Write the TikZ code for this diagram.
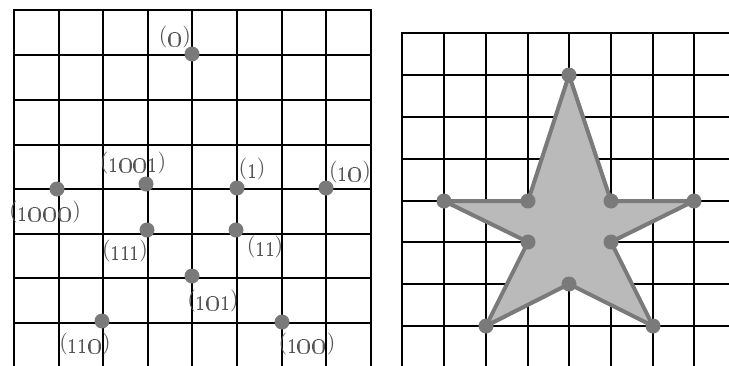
\documentclass[tikz,border=0pt]{standalone}
\usepackage{graphicx}
\definecolor{dotgray}{gray}{0.48}
\definecolor{txtgray}{gray}{0.33}
\definecolor{fillgray}{gray}{0.73}
\tikzset{
 gridline/.style={line width=2pt, black, line cap=rect},
 dotnode/.style={circle, fill=dotgray, inner sep=0pt, minimum size=15pt},
 lbl/.style={text=txtgray, inner sep=0pt, font=\normalsize},
 starline/.style={draw=dotgray, fill=fillgray, line width=4pt, line join=round},
}
\newcommand{\pL}{\raisebox{4pt}{\scalebox{2.2}[2.2]{(}}}
\newcommand{\pR}{\raisebox{4pt}{\scalebox{2.2}[2.2]{)}}}
\newcommand{\dI}{\scalebox{0.64}[1]{\oldstylenums{1}}}
\newcommand{\dO}{\oldstylenums{0}}
\newcommand{\lab}[1]{\pL\scalebox{3.0}[3.2]{#1}\pR}
\begin{document}
\begin{tikzpicture}[x=1pt,y=-1pt]
\useasboundingbox (0,0) rectangle (729,365);
\begin{scope}
\clip (0,0) rectangle (729,365);
% left grid
\foreach \x in {14,59,103,148,192,237,282,326,371} \draw[gridline] (\x,10) -- (\x,380);
\foreach \y in {10,55,100,145,189,234,278,323} \draw[gridline] (14,\y) -- (371,\y);
% right grid
\foreach \x in {402,444,486,528,569,611,653,694,736} \draw[gridline] (\x,33) -- (\x,380);
\foreach \y in {33,75,117,159,201,242,284,326} \draw[gridline] (402,\y) -- (745,\y);
\end{scope}
% left points
\node[dotnode] (d0) at (192,54) {};
\node[dotnode] (d1000) at (57,189) {};
\node[dotnode] (d1001) at (146,184) {};
\node[dotnode] (d1) at (237,188) {};
\node[dotnode] (d10) at (326,188) {};
\node[dotnode] (d111) at (147,230) {};
\node[dotnode] (d11) at (236,230) {};
\node[dotnode] (d101) at (192,276) {};
\node[dotnode] (d110) at (102,321) {};
\node[dotnode] (d100) at (282,322) {};
% left labels
\node[lbl] (l0) at (175,37) {\lab{\dO}};
\node[lbl] (l1001) at (133,163) {\lab{\dI\dO\dO\dI}};
\node[lbl] (l1) at (252,169) {\lab{\dI}};
\node[lbl] (l10) at (350,172) {\lab{\dI\dO}};
\node[lbl] (l1000) at (45,212) {\lab{\dI\dO\dO\dO}};
\node[lbl] (l111) at (125,251) {\lab{\dI\dI\dI}};
\node[lbl] (l11) at (265,247) {\lab{\dI\dI}};
\node[lbl] (l101) at (213,301) {\lab{\dI\dO\dI}};
\node[lbl] (l110) at (85,344) {\lab{\dI\dI\dO}};
\node[lbl] (l100) at (307,344) {\lab{\dI\dO\dO}};
% star
\coordinate (s1) at (569,75);
\coordinate (s2) at (611,201);
\coordinate (s3) at (694,201);
\coordinate (s4) at (611,242);
\coordinate (s5) at (653,326);
\coordinate (s6) at (569,284);
\coordinate (s7) at (486,326);
\coordinate (s8) at (528,242);
\coordinate (s9) at (444,201);
\coordinate (s10) at (528,201);
\draw[starline] (s1) -- (s2) -- (s3) -- (s4) -- (s5) -- (s6) -- (s7) -- (s8) -- (s9) -- (s10) -- cycle;
\foreach \k in {1,...,10} \node[dotnode] (v\k) at (s\k) {};
\end{tikzpicture}
\end{document}
